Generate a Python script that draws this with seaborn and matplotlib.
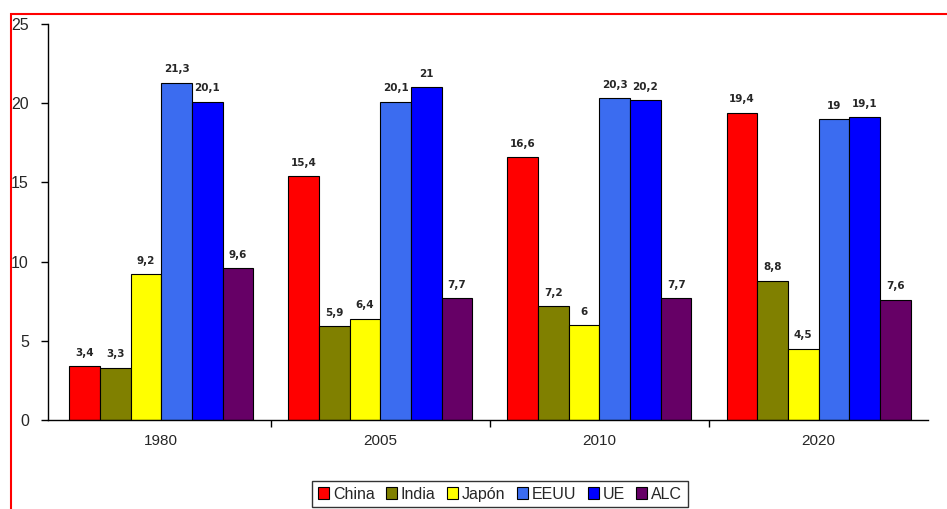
import pandas as pd
import numpy as np
import matplotlib.pyplot as plt
import seaborn as sns
from matplotlib.patches import Rectangle

years = ["1980", "2005", "2010", "2020"]
regions = ["China", "India", "Japón", "EEUU", "UE", "ALC"]
china = [3.4, 15.4, 16.6, 19.4]
india = [3.3, 5.9, 7.2, 8.8]
japon = [9.2, 6.4, 6.0, 4.5]
eeuu = [21.3, 20.1, 20.3, 19.0]
ue = [20.1, 21.0, 20.2, 19.1]
alc = [9.6, 7.7, 7.7, 7.6]
colors = ["#ff0000", "#808000", "#ffff00", "#3b6cf0", "#0000ff", "#660066"]

series = [china, india, japon, eeuu, ue, alc]
rows = []
for reg, vals in zip(regions, series):
    for yr, v in zip(years, vals):
        rows.append({"year": yr, "region": reg, "value": v})
df = pd.DataFrame(rows)

sns.set_style("white")
plt.rcParams["font.family"] = ["Liberation Sans", "DejaVu Sans"]

fig = plt.figure(figsize=(9.47, 5.09), dpi=100)
ax = fig.add_axes([0.051, 0.175, 0.929, 0.778])

sns.barplot(data=df, x="year", y="value", hue="region", order=years,
            hue_order=regions, palette=colors, edgecolor="black",
            linewidth=0.8, width=0.84, gap=0, saturation=1, ax=ax)

for cont, vals in zip(ax.containers, series):
    labels = [f"{v:g}".replace(".", ",") for v in vals]
    ax.bar_label(cont, labels=labels, padding=6, fontsize=7.5,
                 fontweight="bold", family="DejaVu Sans")

ax.set_ylim(0, 25)
ax.set_xlim(-0.516, 3.5)
ax.set_yticks(range(0, 26, 5))
ax.set_xlabel("")
ax.set_ylabel("")
ax.tick_params(axis="y", left=True, length=5, width=1, labelsize=11.5,
               color="black", pad=9)
ax.tick_params(axis="x", which="major", length=0, labelsize=11, pad=10)
ax.set_xticks([0.5, 1.5, 2.5], minor=True)
ax.tick_params(axis="x", which="minor", bottom=True, length=5, width=1,
               color="black")
for s in ["top", "right"]:
    ax.spines[s].set_visible(False)
for s in ["left", "bottom"]:
    ax.spines[s].set_color("black")
    ax.spines[s].set_linewidth(1)

ax.legend_.remove()
handles = [Rectangle((0, 0), 1, 1, facecolor=c, edgecolor="black", lw=0.8)
           for c in colors]
leg = fig.legend(handles, regions, loc="lower center",
                 bbox_to_anchor=(0.528, -0.012), ncol=6, fontsize=11.5,
                 frameon=True, fancybox=False, edgecolor="black",
                 handlelength=0.7, handleheight=0.7, handletextpad=0.25,
                 columnspacing=0.7, borderpad=0.35)
leg.get_frame().set_linewidth(1)

fig.patches.append(Rectangle((11 / 947, -0.1), 1.0, 1 - 14 / 509 + 0.1,
                             transform=fig.transFigure, fill=False,
                             edgecolor="red", linewidth=1.5))

plt.savefig("out.png", dpi=100)
plt.close()
